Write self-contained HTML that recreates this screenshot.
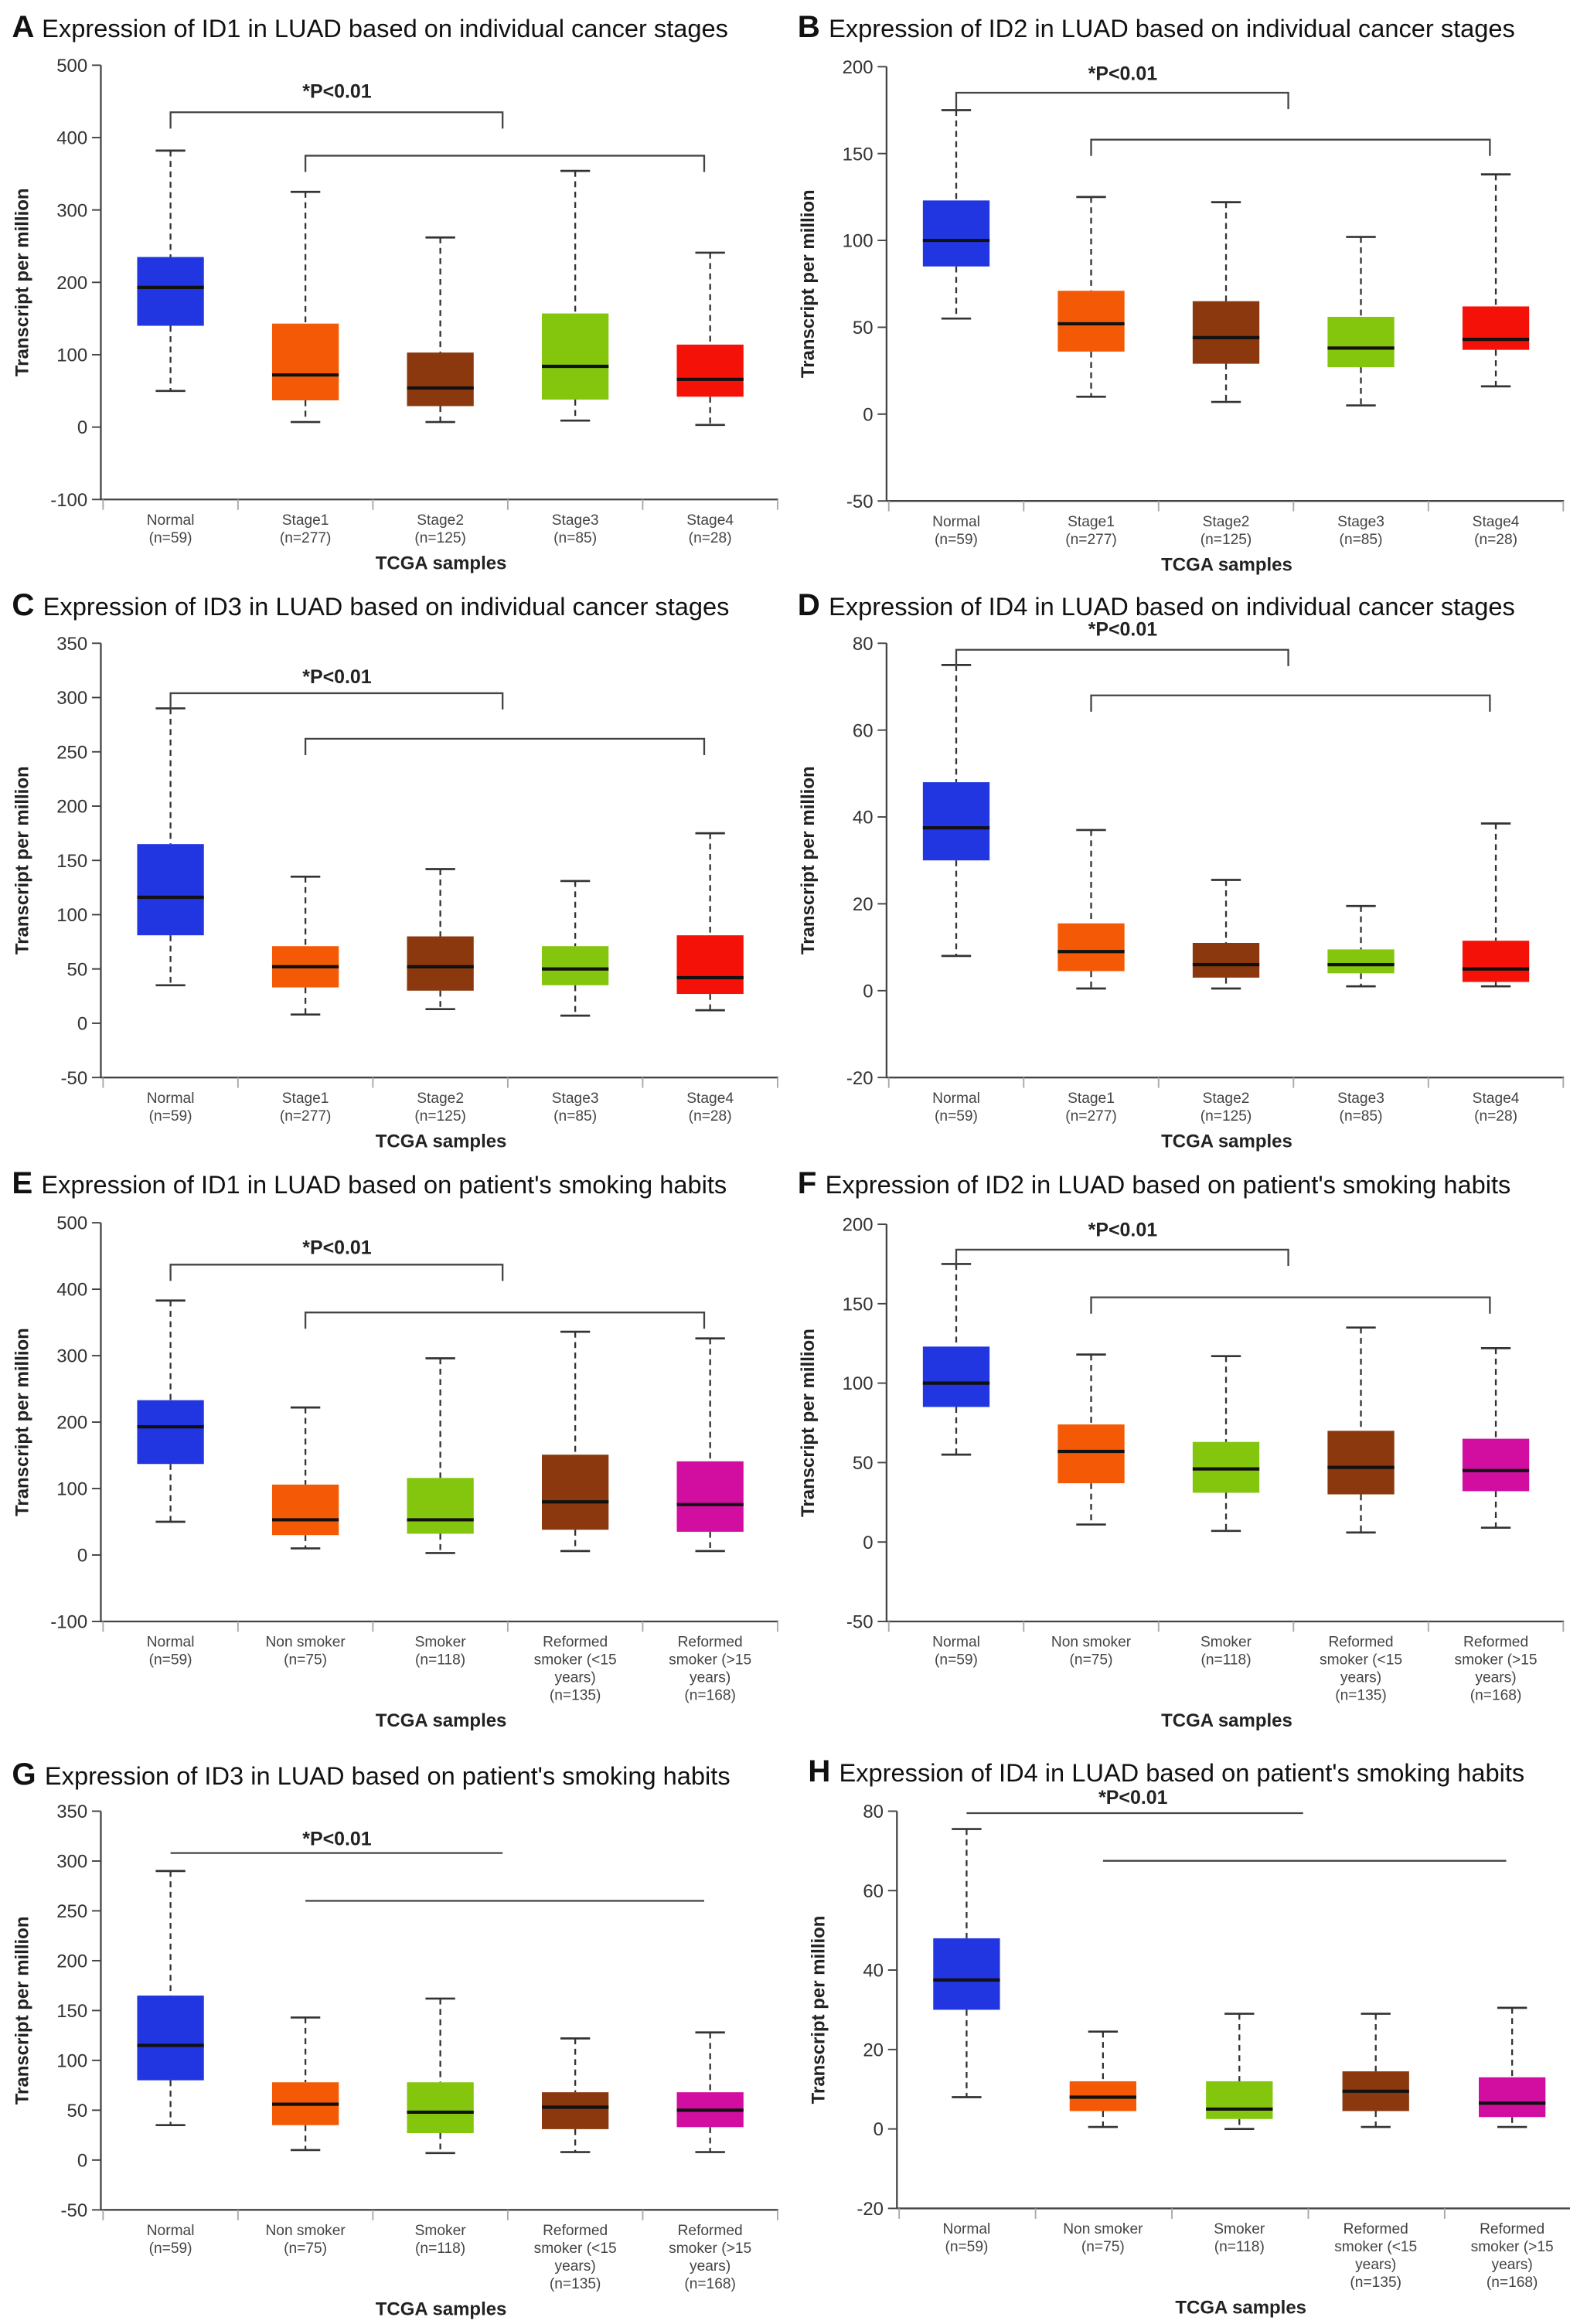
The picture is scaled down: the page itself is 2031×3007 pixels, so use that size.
<!DOCTYPE html>
<html><head><meta charset="utf-8"><style>
html,body{margin:0;padding:0;background:#fff}
svg{display:block}
text{font-family:"Liberation Sans",sans-serif}
</style></head><body>
<svg id="fig" width="2031" height="3007" viewBox="0 0 1059 1568" xmlns="http://www.w3.org/2000/svg"></svg>
<script>
const stageCats = ["Normal|(n=59)","Stage1|(n=277)","Stage2|(n=125)","Stage3|(n=85)","Stage4|(n=28)"];
const smokeCats = ["Normal|(n=59)","Non smoker|(n=75)","Smoker|(n=118)","Reformed|smoker (<15|years)|(n=135)","Reformed|smoker (>15|years)|(n=168)"];
const stageColors = ["#2136e0","#f45a05","#8b380e","#84c60e","#f41208"];
const smokeColors = ["#2136e0","#f45a05","#84c60e","#8b380e","#d20ea0"];
// each row: [min, q1, median, q3, max]
const dataA = [[50,140,193,235,382],[7,37,72,143,325],[7,29,54,103,262],[9,38,84,157,354],[3,42,66,114,241]];
const dataB = [[55,85,100,123,175],[10,36,52,71,125],[7,29,44,65,122],[5,27,38,56,102],[16,37,43,62,138]];
const dataC = [[35,81,116,165,290],[8,33,52,71,135],[13,30,52,80,142],[7,35,50,71,131],[12,27,42,81,175]];
const dataD = [[8,30,37.5,48,75],[0.5,4.5,9,15.5,37],[0.5,3,6,11,25.5],[1,4,6,9.5,19.5],[1,2,5,11.5,38.5]];
const dataE = [[50,137,193,233,383],[10,30,53,106,222],[3,32,53,116,296],[6,38,80,151,336],[6,35,76,141,326]];
const dataF = [[55,85,100,123,175],[11,37,57,74,118],[7,31,46,63,117],[6,30,47,70,135],[9,32,45,65,122]];
const dataG = [[35,80,115,165,290],[10,35,56,78,143],[7,27,48,78,162],[8,31,53,68,122],[8,33,50,68,128]];
const dataH = [[8,30,37.5,48,75.5],[0.5,4.5,8,12,24.5],[0,2.5,5,12,29],[0.5,4.5,9.5,14.5,29],[0.5,3,6.5,13,30.5]];
const ticksA = [-100,0,100,200,300,400,500];
const ticksB = [-50,0,50,100,150,200];
const ticksC = [-50,0,50,100,150,200,250,300,350];
const ticksD = [-20,0,20,40,60,80];

const panels = [
 {id:"a",letter:"A",title:"Expression of ID1 in LUAD based on individual cancer stages",ax:68,ty:18,top:44,bot:337,ticks:ticksA,cats:stageCats,cols:stageColors,data:dataA,br:[[0,3,435],[1,4,375]],pt:61,caps:true,sp:91},
 {id:"b",letter:"B",title:"Expression of ID2 in LUAD based on individual cancer stages",ax:598,ty:18,top:45,bot:338,ticks:ticksB,cats:stageCats,cols:stageColors,data:dataB,br:[[0,3,185],[1,4,158]],pt:49,caps:true,sp:91},
 {id:"c",letter:"C",title:"Expression of ID3 in LUAD based on individual cancer stages",ax:68,ty:408,top:434,bot:727,ticks:ticksC,cats:stageCats,cols:stageColors,data:dataC,br:[[0,3,304],[1,4,262]],pt:456,caps:true,sp:91},
 {id:"d",letter:"D",title:"Expression of ID4 in LUAD based on individual cancer stages",ax:598,ty:408,top:434,bot:727,ticks:ticksD,cats:stageCats,cols:stageColors,data:dataD,br:[[0,3,78.5],[1,4,68]],pt:424,caps:true,sp:91},
 {id:"e",letter:"E",title:"Expression of ID1 in LUAD based on patient's smoking habits",ax:68,ty:798,top:825,bot:1094,ticks:ticksA,cats:smokeCats,cols:smokeColors,data:dataE,br:[[0,3,437],[1,4,365]],pt:841,caps:true,sp:91},
 {id:"f",letter:"F",title:"Expression of ID2 in LUAD based on patient's smoking habits",ax:598,ty:798,top:826,bot:1094,ticks:ticksB,cats:smokeCats,cols:smokeColors,data:dataF,br:[[0,3,184],[1,4,154]],pt:829,caps:true,sp:91},
 {id:"g",letter:"G",title:"Expression of ID3 in LUAD based on patient's smoking habits",ax:68,ty:1197,top:1222,bot:1491,ticks:ticksC,cats:smokeCats,cols:smokeColors,data:dataG,br:[[0,3,308],[1,4,260]],pt:1240,caps:false,sp:91},
 {id:"h",letter:"H",title:"Expression of ID4 in LUAD based on patient's smoking habits",ax:605,ty:1195,top:1222,bot:1490,ticks:ticksD,cats:smokeCats,cols:smokeColors,data:dataH,br:[[0,3,79.5],[1,4,67.5]],pt:1212,caps:false,sp:92}
];
const NS="http://www.w3.org/2000/svg";
const svg=document.getElementById("fig");
function mk(tag,attrs,parent,txt){const e=document.createElementNS(NS,tag);for(const k in attrs)e.setAttribute(k,attrs[k]);if(txt!==undefined)e.textContent=txt;parent.appendChild(e);return e;}
panels.forEach(p=>{
  const g=mk("g",{},svg);
  
  
  const tmin=p.ticks[0],tmax=p.ticks[p.ticks.length-1];
  const y=v=>p.bot-(v-tmin)/(tmax-tmin)*(p.bot-p.top);
  const x=i=>p.ax+47+p.sp*i;
  const t=mk("text",{x:p.ax-60,y:p.ty+7,"font-size":"17","fill":"#111"},g);
  
  
  mk("tspan",{"font-weight":"bold","font-size":"21"},t,p.letter+" ");
  mk("tspan",{},t,p.title);
  const ya=mk("line",{x1:p.ax,y1:p.top,x2:p.ax,y2:p.bot,stroke:"#444","stroke-width":"1.2"},g);
  
  
  p.ticks.forEach(v=>{
    mk("line",{x1:p.ax-6,y1:y(v),x2:p.ax,y2:y(v),stroke:"#444","stroke-width":"1"},g);
    const tl=mk("text",{x:p.ax-9,y:y(v)+4.5,"font-size":"12.5","text-anchor":"end",fill:"#333"},g,String(v));
    
    
  });
  const xa=mk("line",{x1:p.ax,y1:p.bot,x2:p.ax+2+p.sp*5,y2:p.bot,stroke:"#444","stroke-width":"1.2"},g);
  
  
  for(let i=0;i<=5;i++){const bx=p.ax+1.5+p.sp*i;mk("line",{x1:bx,y1:p.bot,x2:bx,y2:p.bot+7,stroke:"#aaa","stroke-width":"1"},g);}
  const yt=mk("text",{x:0,y:0,"font-size":"12.5","font-weight":"bold","text-anchor":"middle",fill:"#222",transform:`translate(${p.ax-49},${(p.top+p.bot)/2}) rotate(-90)`},g,"Transcript per million");
  
  
  p.cats.forEach((c,i)=>{
    const lines=c.split("|");
    const tx=mk("text",{x:x(i),y:p.bot+17,"font-size":"10","text-anchor":"middle",fill:"#444"},g);
    
    
    lines.forEach((s,k)=>mk("tspan",{x:x(i),dy:k?12:0},tx,s));
  });
  const nl=Math.max(...p.cats.map(c=>c.split("|").length));
  const xt=mk("text",{x:p.ax+2+p.sp*2.5,y:p.bot+17+12*(nl-1)+18,"font-size":"12.5","font-weight":"bold","text-anchor":"middle",fill:"#222"},g,"TCGA samples");
  
  
  p.data.forEach((d,i)=>{
    const cx=x(i),bw=45,cw=20;
    const bg=mk("g",{},g);
    
    
    mk("line",{x1:cx,y1:y(d[4]),x2:cx,y2:y(d[3]),stroke:"#333","stroke-width":"1.2","stroke-dasharray":"4,3"},bg);
    mk("line",{x1:cx,y1:y(d[1]),x2:cx,y2:y(d[0]),stroke:"#333","stroke-width":"1.2","stroke-dasharray":"4,3"},bg);
    mk("line",{x1:cx-cw/2,y1:y(d[4]),x2:cx+cw/2,y2:y(d[4]),stroke:"#333","stroke-width":"1.4"},bg);
    mk("line",{x1:cx-cw/2,y1:y(d[0]),x2:cx+cw/2,y2:y(d[0]),stroke:"#333","stroke-width":"1.4"},bg);
    mk("rect",{x:cx-bw/2,y:y(d[3]),width:bw,height:y(d[1])-y(d[3]),fill:p.cols[i]},bg);
    mk("line",{x1:cx-bw/2,y1:y(d[2]),x2:cx+bw/2,y2:y(d[2]),stroke:"#111","stroke-width":"2.2"},bg);
  });
  p.br.forEach((b,k)=>{
    const x2=x(b[1])-(b[1]===3?49:0)+(b[1]===4?-4:0);
    const yy=y(b[2]);
    const d=p.caps?`M${x(b[0])},${yy+11} V${yy} H${x2} V${yy+11}`:`M${x(b[0])},${yy} H${x2}`;
    const br=mk("path",{d:d,fill:"none",stroke:"#444","stroke-width":"1.2"},g);
    
    
  });
  const pt=mk("text",{x:p.ax+136,y:p.pt+5,"font-size":"13","font-weight":"bold",fill:"#222"},g,"*P<0.01");
  
  
});
</script>
</body></html>
